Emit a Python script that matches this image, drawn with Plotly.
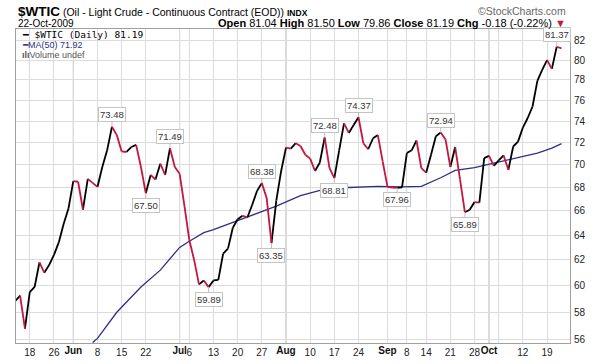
import math
import pandas as pd
import plotly.graph_objects as go

# ---------------- data ----------------
holidays = ['2009-05-25', '2009-07-03', '2009-09-07']
dates = [d.strftime('%Y-%m-%d') for d in pd.bdate_range('2009-05-13', '2009-10-22')
         if d.strftime('%Y-%m-%d') not in holidays]

closes = [
    58.85, 59.25, 56.80, 59.50, 59.90, 61.80, 61.00, 61.60, 62.40, 63.40, 64.90, 66.20,          # May
    68.55, 68.50, 66.10, 68.75, 68.40, 68.05, 69.80, 71.30, 73.48, 72.70, 71.20, 71.15,          # Jun
    71.60, 71.80, 69.80, 67.50, 69.10, 68.70, 70.10, 69.10, 71.49, 69.80,
    69.20, 66.40, 63.60, 62.00, 60.10, 60.40, 59.89, 60.40, 60.45, 62.50, 62.90, 64.60,          # Jul
    65.30, 65.60, 65.45, 66.50, 67.70, 68.38, 67.10, 63.35, 66.90, 69.45,
    71.55, 71.45, 71.95, 71.70, 70.90, 70.55, 69.45, 70.20, 72.48, 69.70, 68.81, 71.30,          # Aug
    73.80, 72.90, 73.65, 74.37, 71.95, 71.40, 72.40, 72.70, 70.30,
    68.05, 68.00, 67.96, 68.02, 71.05, 71.30, 72.20, 69.70, 69.30, 70.90, 72.60, 72.94,          # Sep
    72.30, 69.80, 71.60, 68.70, 65.89, 66.10, 66.75, 66.70, 70.60,
    70.80, 69.90, 70.40, 70.85, 69.55, 71.65, 72.10, 73.40, 74.30, 75.40, 77.90, 79.00,          # Oct
    80.00, 79.10, 81.37, 81.19,
]

ma_dates = ['2009-06-05', '2009-06-08', '2009-06-12', '2009-06-19', '2009-06-25', '2009-07-01',
            '2009-07-06', '2009-07-09', '2009-07-13', '2009-07-16', '2009-07-22', '2009-07-30',
            '2009-08-06', '2009-08-13', '2009-08-20', '2009-08-28', '2009-09-04', '2009-09-11',
            '2009-09-17', '2009-09-22', '2009-09-28', '2009-10-01', '2009-10-06', '2009-10-12',
            '2009-10-15', '2009-10-20', '2009-10-22']
ma_values = [55.80, 56.10, 58.00, 59.90, 61.20, 63.00,
             63.50, 64.20, 64.45, 64.90, 65.50, 66.40,
             67.30, 67.85, 68.00, 68.10, 68.05, 68.10,
             68.85, 69.50, 69.75, 70.05, 70.35, 70.75,
             71.05, 71.50, 71.92]

week_dates = ['2009-05-18', '2009-05-26', '2009-06-08', '2009-06-15', '2009-06-22',
              '2009-07-06', '2009-07-13', '2009-07-20', '2009-07-27',
              '2009-08-10', '2009-08-17', '2009-08-24', '2009-09-08', '2009-09-14',
              '2009-09-21', '2009-09-28', '2009-10-12', '2009-10-19']
week_labels = ['18', '26', '8', '15', '22',
               '6', '13', '20', '27',
               '10', '17', '24', '8', '14',
               '21', '28', '12', '19']
month_dates = ['2009-06-01', '2009-07-01', '2009-08-03', '2009-09-01', '2009-10-01']
month_labels = ['Jun', 'Jul', 'Aug', 'Sep', 'Oct']
extra_grid_dates = ['2009-10-05']

peak_dates = ['2009-06-11', '2009-06-29', '2009-07-27', '2009-08-13', '2009-08-24', '2009-09-17', '2009-10-21']
trough_dates = ['2009-06-22', '2009-07-10', '2009-07-29', '2009-08-17', '2009-09-03', '2009-09-24']

y_ticks = list(range(56, 84, 2))

# ---------------- build ----------------
idx = {d: i for i, d in enumerate(dates)}
xs = list(range(len(dates)))

up_x, up_y, dn_x, dn_y = [], [], [], []
for i in range(1, len(closes)):
    if closes[i] < closes[i - 1]:
        dn_x += [xs[i - 1], xs[i], None]
        dn_y += [closes[i - 1], closes[i], None]
    else:
        up_x += [xs[i - 1], xs[i], None]
        up_y += [closes[i - 1], closes[i], None]

RED = '#c2173f'
NAVY = '#2f2f86'
FONT = 'Liberation Sans, Arial, sans-serif'
XRANGE = [0.15, 114.75]

fig = go.Figure()
fig.add_trace(go.Scatter(x=[idx[d] for d in ma_dates], y=ma_values, mode='lines',
                         line=dict(color=NAVY, width=1.3), hoverinfo='skip'))
fig.add_trace(go.Scatter(x=up_x, y=up_y, mode='lines', line=dict(color='#000000', width=1.8),
                         hoverinfo='skip'))
fig.add_trace(go.Scatter(x=dn_x, y=dn_y, mode='lines', line=dict(color=RED, width=1.8),
                         hoverinfo='skip'))
# empty trace so the month-label axis exists
fig.add_trace(go.Scatter(x=[], y=[], xaxis='x2', mode='lines', hoverinfo='skip'))

shapes = []
for d in month_dates:
    shapes.append(dict(type='line', xref='x', yref='paper', x0=idx[d], x1=idx[d], y0=0, y1=1,
                       line=dict(color='#b4b4b4', width=1), layer='between'))
# legend background
shapes.append(dict(type='rect', xref='paper', yref='paper', x0=0.002, x1=0.229, y0=0.898, y1=0.998,
                   fillcolor='white', line=dict(width=0), layer='between'))

annotations = []
for d in peak_dates:
    v = closes[idx[d]]
    annotations.append(dict(x=idx[d], y=math.log10(v), xref='x', yref='y', text=f'{v:.2f}',
                            showarrow=True, ax=0, ay=-12, arrowhead=0, arrowwidth=1,
                            arrowcolor='#bdbdbd', standoff=0, bgcolor='white',
                            bordercolor='#c4c4c4', borderwidth=1, borderpad=1,
                            font=dict(family=FONT, size=9.5, color='#333333')))
for d in trough_dates:
    v = closes[idx[d]]
    annotations.append(dict(x=idx[d], y=math.log10(v), xref='x', yref='y', text=f'{v:.2f}',
                            showarrow=True, ax=0, ay=12, arrowhead=0, arrowwidth=1,
                            arrowcolor='#bdbdbd', standoff=0, bgcolor='white',
                            bordercolor='#c4c4c4', borderwidth=1, borderpad=1,
                            font=dict(family=FONT, size=9.5, color='#333333')))

# header
annotations.append(dict(xref='paper', yref='paper', x=0, y=1, xanchor='left', yanchor='middle',
                        yshift=18, showarrow=False, align='left',
                        text='<b><span style="font-size:13.5px">$WTIC</span></b> '
                             '(Oil - Light Crude - Continuous Contract (EOD)) '
                             '<b><span style="font-size:8.5px">INDX</span></b>',
                        font=dict(family=FONT, size=10.5, color='#000000')))
annotations.append(dict(xref='paper', yref='paper', x=1, y=1, xanchor='right', yanchor='middle',
                        yshift=18, xshift=-2, showarrow=False,
                        text='©StockCharts.com',
                        font=dict(family=FONT, size=10.5, color='#666666')))
annotations.append(dict(xref='paper', yref='paper', x=0, y=1, xanchor='left', yanchor='middle',
                        yshift=6, showarrow=False,
                        text='22-Oct-2009',
                        font=dict(family=FONT, size=10, color='#000000')))
annotations.append(dict(xref='paper', yref='paper', x=1, y=1, xanchor='right', yanchor='middle',
                        yshift=6, xshift=-2, showarrow=False,
                        text='<b>Open</b> 81.04 <b>High</b> 81.50 <b>Low</b> 79.86 '
                             '<b>Close</b> 81.19 <b>Chg</b> -0.18 (-0.22%) '
                             f'<span style="color:{RED}">▼</span>',
                        font=dict(family=FONT, size=11, color='#000000')))
# legend
annotations.append(dict(xref='paper', yref='paper', x=0, y=1, xanchor='left', yanchor='middle',
                        xshift=4, yshift=-5.5, showarrow=False,
                        text='━ $WTIC (Daily) 81.19',
                        font=dict(family='DejaVu Sans Mono, monospace', size=9.5, color='#000000')))
annotations.append(dict(xref='paper', yref='paper', x=0, y=1, xanchor='left', yanchor='middle',
                        xshift=4, yshift=-16, showarrow=False,
                        text='━MA(50) 71.92',
                        font=dict(family=FONT, size=9, color=NAVY)))
annotations.append(dict(xref='paper', yref='paper', x=0, y=1, xanchor='left', yanchor='middle',
                        xshift=4, yshift=-26, showarrow=False,
                        text='<b>ılı</b>Volume undef',
                        font=dict(family=FONT, size=9, color='#555555')))

fig.update_layout(
    width=600, height=364,
    margin=dict(l=16, r=30, t=29, b=21, autoexpand=False),
    paper_bgcolor='white', plot_bgcolor='white',
    showlegend=False, hovermode=False,
    shapes=shapes, annotations=annotations,
    xaxis=dict(range=XRANGE, tickmode='array',
               tickvals=[idx[d] for d in week_dates] + [idx[d] for d in month_dates],
               ticktext=week_labels + ['' for _ in month_dates],
               showgrid=True, gridcolor='#dcdcdc', gridwidth=1, zeroline=False,
               showline=True, linecolor='#a0a0a0', linewidth=1, mirror=True, ticks='',
               tickfont=dict(family=FONT, size=10, color='#222222'),
               minor=dict(tickmode='array', tickvals=[idx[d] for d in extra_grid_dates],
                          showgrid=True, gridcolor='#dcdcdc', ticks='')),
    xaxis2=dict(overlaying='x', matches='x', range=XRANGE, side='bottom', anchor='y',
                tickmode='array', tickvals=[idx[d] for d in month_dates], ticktext=month_labels,
                showgrid=False, zeroline=False, showline=False, ticks='',
                tickfont=dict(family=FONT, size=10, color='#111111', weight='bold')),
    yaxis=dict(type='log', range=[math.log10(55.77), math.log10(83.23)], side='right',
               tickmode='array', tickvals=y_ticks, ticktext=[str(v) for v in y_ticks],
               showgrid=True, gridcolor='#dcdcdc', gridwidth=1, zeroline=False,
               showline=True, linecolor='#a0a0a0', linewidth=1, mirror=True, ticks='',
               ticklabelstandoff=1,
               tickfont=dict(family=FONT, size=10, color='#222222')),
)

fig.write_html('out.html', config={'displayModeBar': False},
               post_script="document.body.style.margin='0';document.body.style.overflow='hidden';")
